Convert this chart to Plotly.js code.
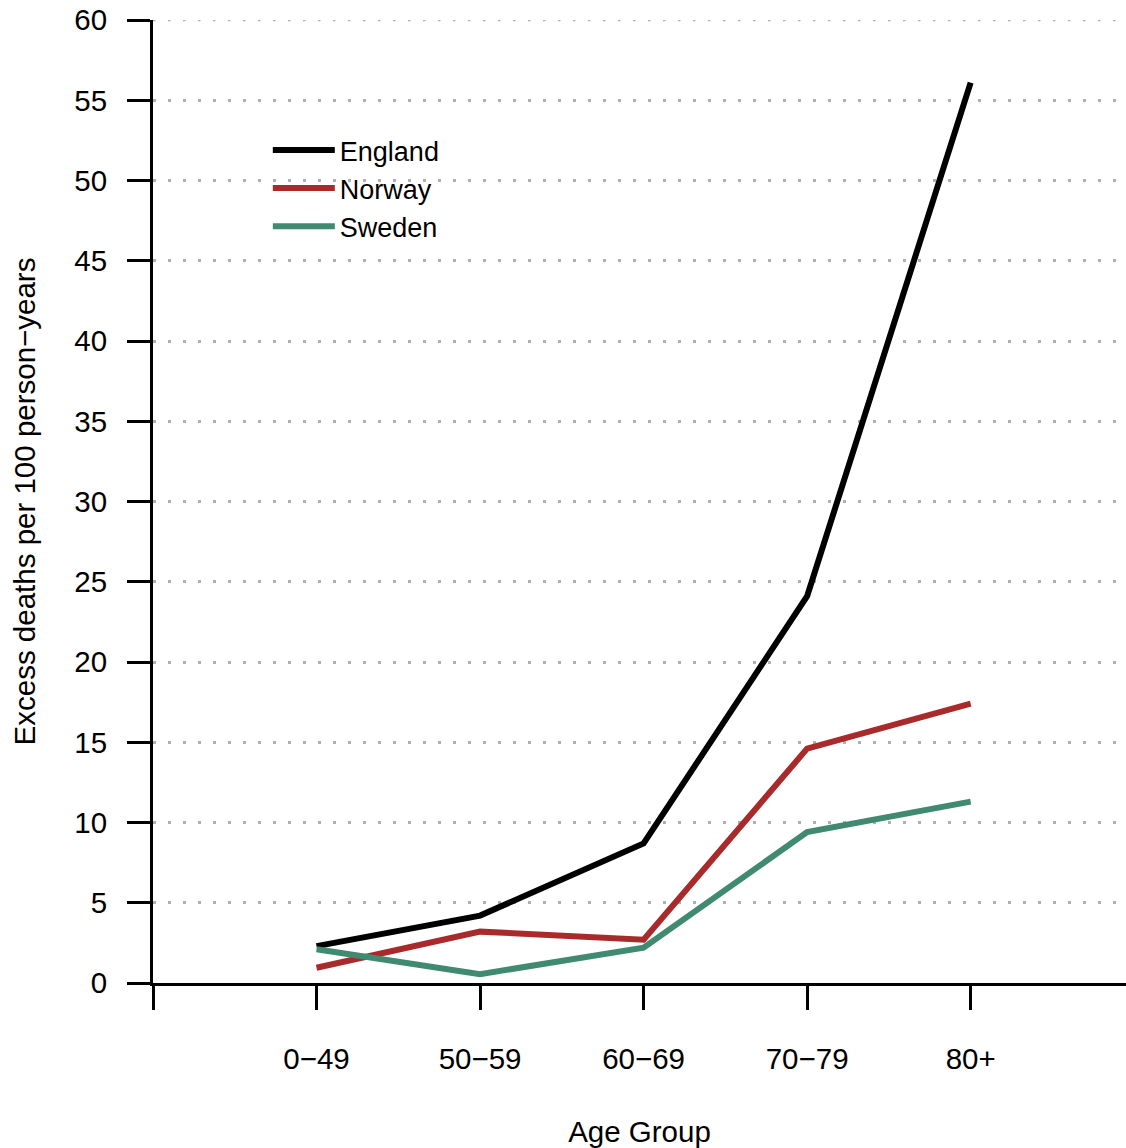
<!DOCTYPE html>
<html>
<head>
<meta charset="utf-8">
<script src="https://cdn.plot.ly/plotly-3.0.1.min.js"></script>
<style>html,body{margin:0;padding:0;background:#fff;overflow:hidden;}</style>
</head>
<body>
<div id="chart" style="width:1126px;height:1148px;"></div>
<script>
var ageGroups = ["0\u221249", "50\u221259", "60\u221269", "70\u221279", "80+"];
var england = [2.3, 4.2, 8.7, 24.1, 56.1];
var norway = [0.95, 3.2, 2.7, 14.6, 17.4];
var sweden = [2.1, 0.55, 2.2, 9.4, 11.3];
var seriesNames = ["England", "Norway", "Sweden"];
var yTicks = [0, 5, 10, 15, 20, 25, 30, 35, 40, 45, 50, 55, 60];

var xPos = ageGroups.map(function(_, i){ return i; });
var colors = ["#000000", "#A82A2A", "#3F8A70"];
var data = [england, norway, sweden].map(function(vals, k){
  return {
    x: xPos, y: vals, type: "scatter", mode: "lines",
    name: seriesNames[k],
    line: {color: colors[k], width: 6},
    hoverinfo: "x+y"
  };
});

var fam = "Liberation Sans, Arial, sans-serif";
var fs = 29.5;
var gridColor = "#b0b0b0", gridDash = "2.5px,12.5px";
var yTop = yTicks[yTicks.length - 1];
var layout = {
  width: 1126, height: 1148,
  margin: {l: 153, r: 0, t: 20, b: 165},
  paper_bgcolor: "#fff", plot_bgcolor: "#fff",
  font: {family: fam, size: fs, color: "#000"},
  showlegend: true,
  legend: {x: 0.118, y: 0.89, xanchor: "left", yanchor: "top",
           font: {family: fam, size: 27, color: "#000"},
           bgcolor: "rgba(0,0,0,0)", tracegroupgap: 0, itemwidth: 62},
  shapes: [{
    type: "line", xref: "paper", yref: "y", x0: 0, x1: 1, y0: yTop, y1: yTop,
    line: {color: gridColor, width: 2.5, dash: gridDash}, layer: "below"
  }],
  xaxis: {
    range: [-1, 4.95],
    tickmode: "array",
    tickvals: [-1, 0, 1, 2, 3, 4],
    ticktext: [""].concat(ageGroups),
    showline: true, linecolor: "#000", linewidth: 3,
    ticks: "outside", ticklen: 24, tickwidth: 3, tickcolor: "#000",
    ticklabelstandoff: 24,
    showgrid: false, zeroline: false,
    tickfont: {family: fam, size: fs, color: "#000"},
    title: {text: "Age Group", font: {family: fam, size: fs, color: "#000"}, standoff: 47},
    automargin: false, fixedrange: true
  },
  yaxis: {
    range: [0, yTop],
    tickmode: "array",
    tickvals: yTicks,
    showline: true, linecolor: "#000", linewidth: 3,
    ticks: "outside", ticklen: 23, tickwidth: 3, tickcolor: "#000",
    ticklabelstandoff: 14,
    showgrid: true, gridcolor: gridColor, gridwidth: 2.5, griddash: gridDash,
    zeroline: false,
    tickfont: {family: fam, size: fs, color: "#000"},
    title: {text: "Excess deaths per 100 person\u2212years", font: {family: fam, size: fs, color: "#000"}, standoff: 30},
    automargin: false, fixedrange: true
  }
};

Plotly.newPlot("chart", data, layout, {displayModeBar: false});
</script>
</body>
</html>
